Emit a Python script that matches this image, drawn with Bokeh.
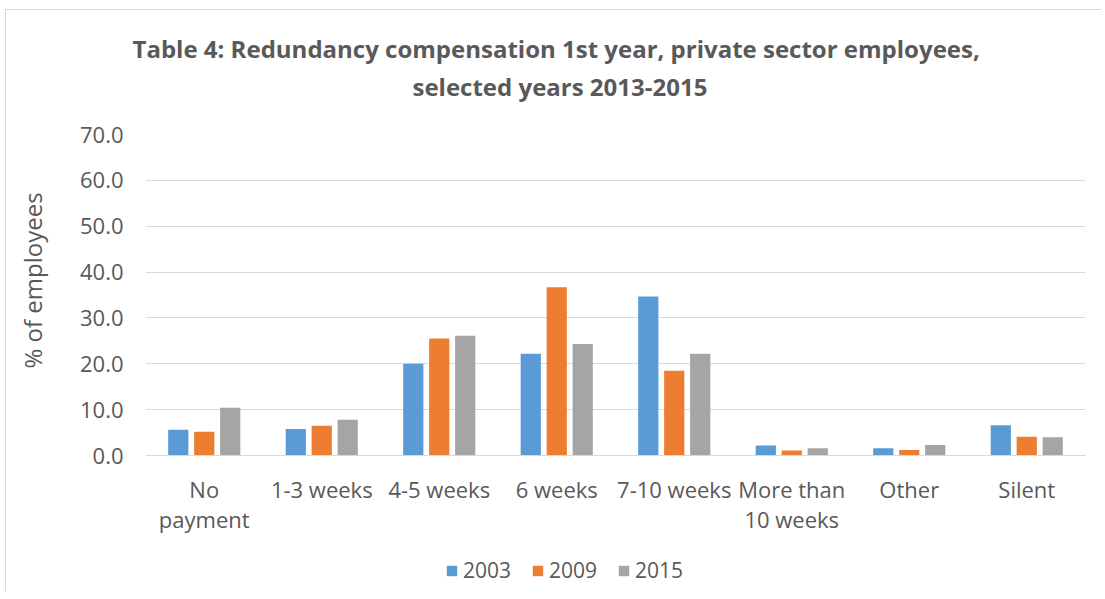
from bokeh.plotting import figure
from bokeh.layouts import column
from bokeh.models import (ColumnDataSource, FactorRange, Range1d, Legend, LegendItem, Title,
                          SingleIntervalTicker, NumeralTickFormatter)
from bokeh.transform import dodge
from bokeh.embed import file_html
from bokeh.resources import INLINE

categories = ["No payment", "1-3 weeks", "4-5 weeks", "6 weeks", "7-10 weeks",
              "More than 10 weeks", "Other", "Silent"]
category_labels = {"No payment": "No\npayment", "More than 10 weeks": "More than\n10 weeks"}
years = ["2003", "2009", "2015"]
v2003 = [5.6, 5.8, 20.0, 22.2, 34.7, 2.2, 1.6, 6.6]
v2009 = [5.2, 6.5, 25.5, 36.7, 18.5, 1.1, 1.2, 4.1]
v2015 = [10.4, 7.8, 26.1, 24.3, 22.2, 1.6, 2.3, 4.0]
colors = ["#5B9BD5", "#ED7D31", "#A5A5A5"]
title_lines = ["Table 4: Redundancy compensation 1st year, private sector employees,",
               "selected years 2013-2015"]
y_label = "% of employees"

FONT = "Open Sans"
GREY = "#595959"

factors = [category_labels.get(c, c) for c in categories]
src = ColumnDataSource(dict(cat=factors, y2003=v2003, y2009=v2009, y2015=v2015))

p = figure(width=1095, height=531, x_range=FactorRange(*factors, range_padding=0),
           y_range=Range1d(0, 70), output_backend="svg", toolbar_location=None,
           min_border_left=139, min_border_right=16, min_border_top=124, min_border_bottom=86)
p.outline_line_color = None

offsets = [-0.221, 0.0, 0.221]
for yr, col, off in zip(years, colors, offsets):
    p.vbar(x=dodge("cat", off, range=p.x_range), top="y" + yr, width=0.172,
           source=src, fill_color=col, line_color=None)

# axes
p.yaxis.ticker = SingleIntervalTicker(interval=10)
p.yaxis.formatter = NumeralTickFormatter(format="0.0")
p.yaxis.axis_line_color = None
p.yaxis.major_tick_line_color = None
p.yaxis.minor_tick_line_color = None
p.yaxis.major_tick_out = 0
p.yaxis.major_tick_in = 0
p.yaxis.minor_tick_out = 0
p.yaxis.major_label_standoff = 22
p.yaxis.major_label_text_font = FONT
p.yaxis.major_label_text_font_size = "22px"
p.yaxis.major_label_text_color = GREY

p.xaxis.axis_line_color = "#D9D9D9"
p.xaxis.axis_line_width = 1
p.xaxis.major_tick_line_color = None
p.xaxis.minor_tick_line_color = None
p.xaxis.major_tick_out = 0
p.xaxis.major_tick_in = 0
p.xaxis.minor_tick_out = 0
p.xaxis.major_label_standoff = 18
p.xaxis.major_label_text_font = FONT
p.xaxis.major_label_text_font_size = "22px"
p.xaxis.major_label_text_color = GREY
p.xaxis.major_label_text_line_height = 1.0

p.xgrid.grid_line_color = None
p.ygrid.ticker = SingleIntervalTicker(interval=10)
p.ygrid.grid_line_color = "#D9D9D9"
p.ygrid.grid_line_width = 1

# title: spacer nearest the frame, then line 2, then line 1
p.add_layout(Title(text=" ", text_font_size="1px", standoff=26), "above")
p.add_layout(Title(text=title_lines[1], align="left", offset=267, standoff=6,
                   text_font=FONT, text_font_size="24px", text_font_style="bold",
                   text_color=GREY), "above")
p.add_layout(Title(text=title_lines[0], align="left", offset=-13, standoff=0,
                   text_font=FONT, text_font_size="24px", text_font_style="bold",
                   text_color=GREY), "above")

# y-axis title: spacer next to the tick labels, then the rotated title
p.add_layout(Title(text=" ", text_font_size="1px", standoff=24), "left")
p.add_layout(Title(text=y_label, align="left", offset=87, standoff=0, vertical_align="middle",
                   text_font=FONT, text_font_size="24px", text_font_style="normal",
                   text_color=GREY), "left")

# legend in a strip below the chart
pl = figure(width=1095, height=50, output_backend="svg", toolbar_location=None,
            x_axis_type=None, y_axis_type=None, min_border=0)
pl.outline_line_color = None
pl.xgrid.visible = False
pl.ygrid.visible = False
items = []
for yr, col in zip(years, colors):
    r = pl.vbar(x=[0], top=[0], width=0, fill_color=col, line_color=None)
    items.append(LegendItem(label=yr, renderers=[r]))
legend = Legend(items=items, orientation="horizontal", location=(300, 7),
                glyph_width=13, glyph_height=13, label_standoff=5, spacing=20,
                padding=0, margin=0, border_line_color=None, background_fill_alpha=0,
                label_text_font=FONT, label_text_font_size="21px", label_text_color=GREY)
pl.add_layout(legend, "center")

layout = column(p, pl, spacing=0)
layout.styles = {"border-left": "1px solid #D9D9D9", "border-top": "1px solid #D9D9D9",
                 "margin-left": "5px", "margin-top": "9px"}

open("out.html", "w").write(file_html(layout, INLINE))
